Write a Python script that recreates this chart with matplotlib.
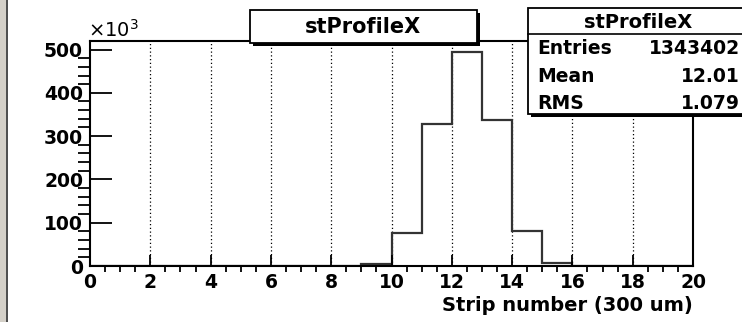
import matplotlib.pyplot as plt
from matplotlib.patches import Rectangle
import numpy as np

# histogram contents, bins of width 1 from 0 to 20
bin_edges = np.arange(0, 21, 1)
counts = [0, 0, 0, 0, 0, 0, 0, 0, 0, 4000,
          77000, 328000, 495000, 338000, 81000, 8000, 0, 0, 0, 0]
x_ticks = [0, 2, 4, 6, 8, 10, 12, 14, 16, 18, 20]
y_ticks = [0, 100, 200, 300, 400, 500]
title = "stProfileX"
stats = [("Entries", "1343402"), ("Mean", "12.01"), ("RMS", "1.079")]
x_label = "Strip number (300 um)"

W, H = 742, 322
plt.rcParams['font.family'] = ['DejaVu Sans']
fig = plt.figure(figsize=(W / 100, H / 100), dpi=100)
fig.patch.set_facecolor('white')

def fx(px):
    return px / W

def fy(py):
    return 1 - py / H

# window edge at the left
fig.patches.append(Rectangle((0, 0), fx(6), 1, transform=fig.transFigure,
                             facecolor='#d4d0c8', edgecolor='none'))
fig.patches.append(Rectangle((fx(6), 0), fx(2), 1, transform=fig.transFigure,
                             facecolor='#505050', edgecolor='none'))

ax = fig.add_axes([fx(90), fy(266), fx(693 - 90), (266 - 41) / H])
ax.stairs(np.array(counts) / 1000, bin_edges, color='#333333', linewidth=1.6)
ax.set_xlim(0, 20)
ax.set_ylim(0, 1.05 * max(counts) / 1000)

ax.set_xticks(x_ticks)
ax.set_xticks(np.arange(0, 20.01, 0.5), minor=True)
ax.set_yticks(y_ticks)
ax.set_yticks(np.arange(0, 520, 20), minor=True)
ax.tick_params(axis='both', direction='in', width=1.3, labelsize=13.5)
ax.tick_params(axis='y', which='major', length=16, pad=5)
ax.tick_params(axis='y', which='minor', length=9, width=1.3)
ax.tick_params(axis='x', which='major', length=8, pad=5)
ax.tick_params(axis='x', which='minor', length=4, width=1.3)
for lab in ax.get_xticklabels() + ax.get_yticklabels():
    lab.set_fontweight('bold')
for s in ax.spines.values():
    s.set_linewidth(1.5)
for xv in x_ticks[1:-1]:
    ax.axvline(xv, color='black', linestyle=(0, (1, 2)), linewidth=0.9, zorder=0)

ax.text(-0.003, 1.0, r'$\times$10$^{3}$', transform=ax.transAxes, fontsize=14,
        ha='left', va='bottom')
ax.set_xlabel(x_label, fontsize=14, fontweight='bold', loc='right', labelpad=3)

def box(x0, y0, x1, y1):
    # shadowed white box in pixel coordinates
    fig.patches.append(Rectangle((fx(x0 + 3), fy(y1 + 3)), fx(x1 - x0), (y1 - y0) / H,
                                 transform=fig.transFigure, facecolor='black',
                                 edgecolor='none', zorder=5))
    fig.patches.append(Rectangle((fx(x0), fy(y1)), fx(x1 - x0), (y1 - y0) / H,
                                 transform=fig.transFigure, facecolor='white',
                                 edgecolor='black', linewidth=1.3, zorder=6))

box(250, 10, 477, 43)
fig.text(fx(363), fy(27), title, fontsize=15, fontweight='bold',
         ha='center', va='center', zorder=7)

box(528, 8, 748, 114)
fig.lines.append(plt.Line2D([fx(528), fx(748)], [fy(34), fy(34)],
                            transform=fig.transFigure, color='black',
                            linewidth=1.2, zorder=7))
fig.text(fx(638), fy(22), title, fontsize=14, fontweight='bold',
         ha='center', va='center', zorder=7)
for i, (name, val) in enumerate(stats):
    yy = fy(49 + 27.5 * i)
    fig.text(fx(537), yy, name, fontsize=13.5, fontweight='bold',
             ha='left', va='center', zorder=7)
    fig.text(fx(740), yy, val, fontsize=13.5, fontweight='bold',
             ha='right', va='center', zorder=7)

fig.savefig('out.png', dpi=100)
